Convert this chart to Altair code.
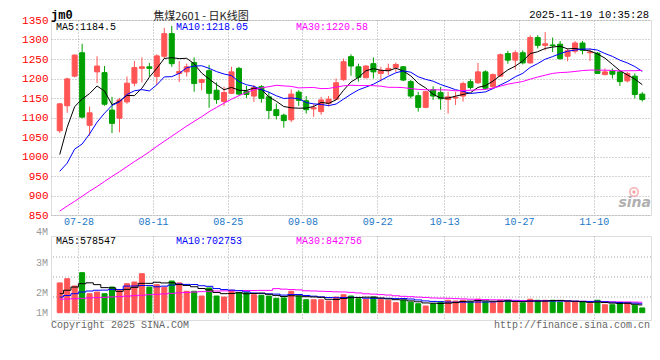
import altair as alt
import pandas as pd

# ---------------- data ----------------
opens = [1066,1130,1206,1266,1080,1217,1215,1119,1098,1140,
         1188,1226,1230,1205,1257,1315,1213,1217,1241,1190,
         1220,1170,1141,1162,1226,1167,1155,1179,1153,1120,
         1106,1094,1165,1143,1122,1115,1136,1147,1197,1256,
         1230,1202,1238,1213,1220,1228,1230,1192,1156,1126,
         1171,1164,1146,1150,1155,1192,1189,1217,1179,1206,
         1264,1247,1266,1240,1305,1285,1286,1288,1257,1270,
         1291,1266,1265,1210,1219,1217,1194,1206,1160]
highs = [1137,1202,1262,1289,1128,1257,1232,1153,1150,1205,
         1245,1254,1240,1262,1330,1335,1245,1238,1254,1200,
         1235,1190,1179,1230,1230,1181,1183,1183,1166,1136,
         1110,1172,1170,1155,1135,1153,1155,1200,1251,1262,
         1238,1234,1254,1230,1238,1241,1232,1196,1166,1168,
         1180,1178,1166,1166,1192,1198,1240,1221,1213,1264,
         1271,1272,1272,1311,1311,1319,1305,1296,1277,1296,
         1296,1277,1268,1226,1226,1221,1217,1213,1165]
lows = [1060,1112,1203,1098,1053,1188,1130,1060,1062,1135,
        1180,1190,1205,1183,1250,1230,1191,1205,1166,1170,
        1125,1135,1130,1160,1157,1150,1140,1138,1096,1095,
        1074,1088,1130,1110,1102,1107,1128,1145,1194,1207,
        1192,1200,1200,1192,1209,1217,1193,1149,1115,1124,
        1145,1120,1110,1132,1141,1172,1186,1172,1175,1204,
        1238,1223,1236,1238,1277,1272,1268,1248,1244,1264,
        1262,1245,1212,1208,1200,1181,1190,1149,1141]
closes = [1135,1199,1260,1101,1112,1232,1134,1085,1145,1188,
          1228,1230,1226,1258,1315,1238,1218,1230,1187,1197,
          1162,1146,1164,1217,1160,1159,1177,1149,1118,1105,
          1092,1160,1144,1120,1125,1145,1147,1189,1243,1232,
          1203,1232,1217,1221,1226,1236,1196,1155,1126,1166,
          1155,1148,1153,1152,1187,1177,1217,1175,1210,1261,
          1247,1266,1240,1305,1285,1289,1284,1251,1271,1291,
          1272,1268,1213,1217,1211,1192,1213,1159,1146]
# volume in millions of lots
volumes = [2.32,2.65,2.08,3.12,1.48,1.61,1.48,2.00,1.75,2.26,
           2.39,3.04,2.00,2.18,1.98,2.47,2.32,1.67,1.67,1.30,
           1.93,1.30,1.22,1.75,1.56,1.56,1.40,1.36,1.30,1.12,
           1.15,1.67,1.30,1.01,1.01,1.01,0.91,1.22,1.40,1.30,
           1.09,1.05,1.22,1.05,0.97,0.78,0.97,0.83,0.70,0.52,
           0.70,0.83,0.97,0.91,0.97,0.83,1.05,0.83,0.78,0.97,
           0.97,0.78,0.76,1.05,0.97,0.97,0.97,0.83,0.83,0.83,
           0.83,0.70,0.97,0.62,0.62,0.70,0.76,0.58,0.37]

ma5_lead = [1005, 1075, 1128, 1147]
ma10_lead = [962, 983, 1019, 1032, 1058, 1088, 1111, 1131, 1140]
ma30_lead = [860, 873, 885, 898, 911, 923, 936, 949, 961, 974,
             987, 999, 1012, 1026, 1039, 1052, 1065, 1078, 1090, 1102,
             1115, 1126, 1137, 1147, 1156, 1164, 1171, 1176, 1179]
vma5_lead = [1.48, 1.75, 2.00, 2.26]
vma10_lead = [1.22, 1.34, 1.48, 1.61, 1.69, 1.75, 1.76, 1.80, 1.81]
vma30_lead = [1.05, 1.07, 1.09, 1.12, 1.15, 1.18, 1.20, 1.23, 1.26, 1.29,
              1.33, 1.36, 1.40, 1.43, 1.47, 1.51, 1.55, 1.58, 1.61, 1.64,
              1.67, 1.69, 1.70, 1.71, 1.72, 1.73, 1.73, 1.74, 1.74]

date_labels = ["07-28", "08-11", "08-25", "09-08", "09-22", "10-13", "10-27", "11-10"]
date_index = [2, 12, 22, 32, 42, 51, 61, 71]          # trading-day index of each labelled date
price_ticks = [850, 900, 950, 1000, 1050, 1100, 1150, 1200, 1250, 1300, 1350]
vol_tick_text = ["4M", "3M", "2M", "1M"]
vol_tick_vals = [6.29, 3.90, 1.56, 0.0]
vol_grid_vals = [1.22, 2.78, 4.34]

title_code = "jm0"
title_name = "焦煤2601 - 日K线图"
timestamp = "2025-11-19 10:35:28"
ma_texts = ["MA5:1184.5", "MA10:1218.05", "MA30:1220.58"]
vma_texts = ["MA5:578547", "MA10:702753", "MA30:842756"]

# ---------------- helpers ----------------
def moving_avg(vals, n, lead):
    out = []
    for i in range(len(vals)):
        if i >= n - 1:
            out.append(sum(vals[i - n + 1:i + 1]) / n)
        else:
            out.append(lead[i])
    return out

N = len(closes)
df = pd.DataFrame({
    "idx": list(range(N)),
    "open": opens, "high": highs, "low": lows, "close": closes,
    "vol": volumes,
    "ma5": moving_avg(closes, 5, ma5_lead),
    "ma10": moving_avg(closes, 10, ma10_lead),
    "ma30": moving_avg(closes, 30, ma30_lead),
    "vma5": moving_avg(volumes, 5, vma5_lead),
    "vma10": moving_avg(volumes, 10, vma10_lead),
    "vma30": moving_avg(volumes, 30, vma30_lead),
})

RED = "#ff5555"
GREEN = "#00a000"
GRID = "#a8a8a8"
MONO = "Liberation Mono"
CJK = "Noto Sans CJK SC"

grid_pos = [i + 0.5 for i in date_index]
label_map = "{" + ",".join(f"'{p}':'{l}'" for p, l in zip(grid_pos, date_labels)) + "}"

xscale = alt.Scale(domain=[-0.5, N - 0.5], nice=False, zero=False)
yscale = alt.Scale(domain=[850, 1350], nice=False, zero=False)
vscale = alt.Scale(domain=[-0.57, 5.98], nice=False, zero=False)

up = "datum.close >= datum.open"
col = alt.condition(up, alt.value(RED), alt.value(GREEN))

x_price = alt.X("idx:Q", scale=xscale, axis=alt.Axis(
    values=grid_pos, labelExpr=label_map + "[datum.value]", grid=True, gridColor=GRID,
    gridDash=[1, 2], ticks=False, domain=False, labelColor="#1a78c8", labelFont=MONO,
    labelFontSize=10, labelPadding=1, title=None, labelFlush=False))
y_axis = alt.Axis(values=price_ticks, format="d", grid=True, gridColor=GRID, gridDash=[1, 2],
                  ticks=False, domain=False, labelColor="#ff0000", labelFont=MONO,
                  labelFontSize=11, labelPadding=3, title=None)

base = alt.Chart(df)
wick = base.mark_rule(strokeWidth=1).encode(
    x=x_price, y=alt.Y("low:Q", scale=yscale, axis=y_axis), y2="high:Q", color=col)
body = base.mark_bar(size=5, strokeWidth=1).encode(
    x=x_price, y=alt.Y("open:Q", scale=yscale, axis=y_axis), y2="close:Q",
    color=col, stroke=col)
ma5 = base.mark_line(color="#000000", strokeWidth=1).encode(
    x=x_price, y=alt.Y("ma5:Q", scale=yscale, axis=y_axis))
ma10 = base.mark_line(color="#0000ff", strokeWidth=1).encode(
    x=x_price, y=alt.Y("ma10:Q", scale=yscale, axis=y_axis))
ma30 = base.mark_line(color="#ff00ff", strokeWidth=1).encode(
    x=x_price, y=alt.Y("ma30:Q", scale=yscale, axis=y_axis))

one = pd.DataFrame({"a": [0]})

def label(text, x, y, color="#000000", size=10, font=MONO, align="left", weight="normal",
          italic=False, baseline="alphabetic"):
    return alt.Chart(one).mark_text(
        text=text, align=align, baseline=baseline, font=font, fontSize=size,
        color=color, fontWeight=weight, fontStyle="italic" if italic else "normal"
    ).encode(x=alt.value(x), y=alt.value(y))

# invisible marker that reserves the strip above the plot for the title line
top_pin = alt.Chart(one).mark_rule(opacity=0).encode(
    x=alt.value(0), x2=alt.value(10), y=alt.value(-10))

# sina watermark: the little eye above the word
eye_ring = alt.Chart(one).mark_point(shape="circle", size=70, color="#f3a3a3",
                                     strokeWidth=2, filled=False).encode(
    x=alt.value(583), y=alt.value(172))
eye_dot = alt.Chart(one).mark_point(shape="circle", size=12, color="#e98080",
                                    filled=True).encode(x=alt.value(583), y=alt.value(172))

price_texts = [
    label(ma_texts[0], 5, 10, "#000000"),
    label(ma_texts[1], 125, 10, "#0000ff"),
    label(ma_texts[2], 245, 10, "#ff00ff"),
    label(title_code, 0, -1, "#000000", size=12, weight="bold"),
    label(title_name, 150, 0, "#222222", size=11, font=CJK, align="center"),
    label(timestamp, 598, -2, "#000000", size=10.5, align="right"),
    label("sina", 600, 187, "#b0b0b0", size=14, font="DejaVu Sans", align="right",
          weight="bold", italic=True),
]

price = alt.layer(top_pin, wick, body, ma5, ma10, ma30, eye_ring, eye_dot,
                  *price_texts).properties(width=600, height=195)

# ---------------- volume panel ----------------
x_vol = alt.X("idx:Q", scale=xscale, axis=alt.Axis(
    values=grid_pos, grid=True, gridColor=GRID, gridDash=[1, 2], labels=False,
    ticks=False, domain=False, title=None))
vbar = base.mark_bar(size=5, strokeWidth=1).encode(
    x=x_vol, y=alt.Y("vol:Q", scale=vscale, axis=None), y2=alt.datum(0),
    color=col, stroke=col)
vgrid = alt.Chart(pd.DataFrame({"g": vol_grid_vals})).mark_rule(
    color=GRID, strokeDash=[1, 2]).encode(y=alt.Y("g:Q", scale=vscale, axis=None))
vlab = alt.Chart(pd.DataFrame({"v": vol_tick_vals, "t": vol_tick_text})).mark_text(
    align="right", baseline="middle", font=MONO, fontSize=10, color="#999999", dx=-3
).encode(y=alt.Y("v:Q", scale=vscale, axis=None), x=alt.value(0), text="t:N")
vma5 = base.mark_line(color="#000000", strokeWidth=1, interpolate="step").encode(
    x=x_vol, y=alt.Y("vma5:Q", scale=vscale, axis=None))
vma10 = base.mark_line(color="#0000ff", strokeWidth=1, interpolate="step").encode(
    x=x_vol, y=alt.Y("vma10:Q", scale=vscale, axis=None))
vma30 = base.mark_line(color="#ff00ff", strokeWidth=1, interpolate="step").encode(
    x=x_vol, y=alt.Y("vma30:Q", scale=vscale, axis=None))
vol_texts = [
    label(vma_texts[0], 5, 5, "#000000", baseline="middle"),
    label(vma_texts[1], 125, 5, "#0000ff", baseline="middle"),
    label(vma_texts[2], 245, 5, "#ff00ff", baseline="middle"),
    label("Copyright 2025 SINA.COM", 0, 89, "#666666", baseline="middle"),
    label("http://finance.sina.com.cn", 599, 89, "#666666", align="right", baseline="middle"),
]
volume = alt.layer(vgrid, vbar, vma30, vma10, vma5, vlab, *vol_texts).properties(
    width=600, height=84)

chart = alt.vconcat(price, volume, spacing=21, bounds="flush").properties(
    padding={"left": 13, "top": 0, "right": 0, "bottom": 0}
).configure_view(stroke="#999999", strokeWidth=1).configure(background="white")

chart.save("out.html", embed_options={"renderer": "svg", "actions": False})
